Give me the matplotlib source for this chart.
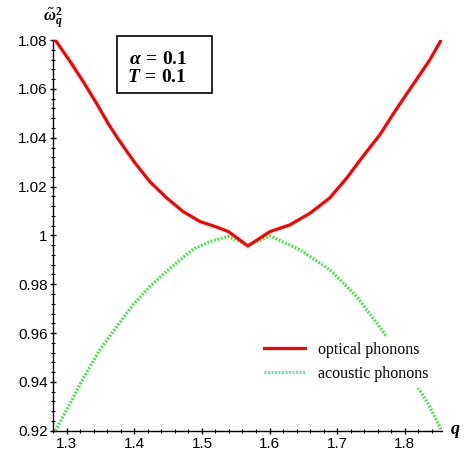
import matplotlib
matplotlib.use("Agg")
from matplotlib import pyplot as plt
from matplotlib.lines import Line2D
from matplotlib.patches import Rectangle
from matplotlib.ticker import MultipleLocator, FormatStrFormatter

plt.rcParams["mathtext.fontset"] = "custom"
plt.rcParams["mathtext.it"] = "Liberation Serif:italic:bold"
plt.rcParams["mathtext.rm"] = "Liberation Serif:bold"
plt.rcParams["mathtext.bf"] = "Liberation Serif:bold"

# optical branch (red)
q_opt = [1.283, 1.305, 1.3245, 1.344, 1.361, 1.376, 1.400, 1.423, 1.448, 1.472,
         1.497, 1.522, 1.539, 1.568, 1.586, 1.601, 1.630, 1.660, 1.689, 1.714,
         1.738, 1.763, 1.787, 1.812, 1.837, 1.854]
w_opt = [1.080, 1.0712, 1.0629, 1.0541, 1.0459, 1.0395, 1.0300, 1.0220, 1.0153, 1.0098,
         1.0057, 1.0034, 1.0016, 0.9957, 0.9989, 1.0016, 1.0043, 1.0091, 1.0153, 1.0234,
         1.0323, 1.0411, 1.0514, 1.0616, 1.0718, 1.080]

# acoustic branch (green)
q_ac = [1.283, 1.300, 1.3245, 1.349, 1.374, 1.398, 1.423, 1.450, 1.487, 1.512,
        1.539, 1.568, 1.601, 1.645, 1.689, 1.729, 1.768, 1.790, 1.812, 1.835, 1.854]
w_ac = [0.920, 0.9287, 0.9416, 0.9532, 0.9627, 0.9716, 0.9791, 0.9859, 0.9944, 0.9975,
        0.9996, 0.9958, 0.9998, 0.9941, 0.9860, 0.9750, 0.9607, 0.9510, 0.9410, 0.9310,
        0.9205]

RED = "#ff0000"
GREEN = "#44e844"

fig = plt.figure(figsize=(4.66, 4.51), dpi=100)
ax = fig.add_axes([0.113, 0.045, 0.835, 0.866])

ax.plot(q_opt, w_opt, color=RED, lw=2.3, zorder=3)
ax.plot(q_ac, w_ac, color=GREEN, lw=2.3, linestyle=(0, (0.6, 0.5)), zorder=2)

ax.set_xlim(1.279, 1.855)
ax.set_ylim(0.92, 1.08)

for side in ["top", "right"]:
    ax.spines[side].set_visible(False)
ax.spines["left"].set_linewidth(1.0)
ax.spines["bottom"].set_linewidth(1.0)

ax.xaxis.set_major_locator(MultipleLocator(0.1))
ax.xaxis.set_minor_locator(MultipleLocator(0.02))
ax.yaxis.set_major_locator(MultipleLocator(0.02))
ax.yaxis.set_minor_locator(MultipleLocator(0.004))
ax.xaxis.set_major_formatter(FormatStrFormatter("%g"))
ax.yaxis.set_major_formatter(FormatStrFormatter("%g"))

ax.tick_params(axis="both", which="major", length=5, width=1, direction="inout",
               labelsize=11)
ax.tick_params(axis="y", which="major", pad=1)
ax.tick_params(axis="x", which="major", pad=2)
ax.tick_params(axis="both", which="minor", length=3, width=0.8, direction="inout")
for lab in ax.get_xticklabels() + ax.get_yticklabels():
    lab.set_family("Liberation Sans")

ax.text(0.0, 1.055, r"$\tilde{\omega}_q^2$", transform=ax.transAxes,
        ha="center", va="center", fontsize=12, clip_on=False)
ax.text(1.034, 0.0, r"$q$", transform=ax.transAxes,
        ha="center", va="center", fontsize=13, clip_on=False)

# parameter box
ax.add_patch(Rectangle((0.165, 0.865), 0.244, 0.146, transform=ax.transAxes,
                       fc="white", ec="black", lw=1.2, clip_on=False, zorder=6))
ax.text(0.272, 0.954, r"$\alpha\, =\, 0.1$", transform=ax.transAxes,
        ha="center", va="center", fontsize=14, zorder=7)
ax.text(0.268, 0.907, r"$T\, =\, 0.1$", transform=ax.transAxes,
        ha="center", va="center", fontsize=14, zorder=7)

handles = [Line2D([], [], color=RED, lw=2.3),
           Line2D([], [], color="#66e0a8", lw=2.3, linestyle=(0, (0.6, 0.5)))]
leg = ax.legend(handles, ["optical phonons", "acoustic phonons"],
                loc="upper left", bbox_to_anchor=(0.51, 0.26),
                prop={"family": "Liberation Serif", "size": 11.5},
                handlelength=2.6, handletextpad=0.8, labelspacing=0.5,
                frameon=True, fancybox=False, edgecolor="white",
                facecolor="white", framealpha=1.0, borderpad=0.3)
leg.set_zorder(5)

fig.savefig("out.png", dpi=100)
